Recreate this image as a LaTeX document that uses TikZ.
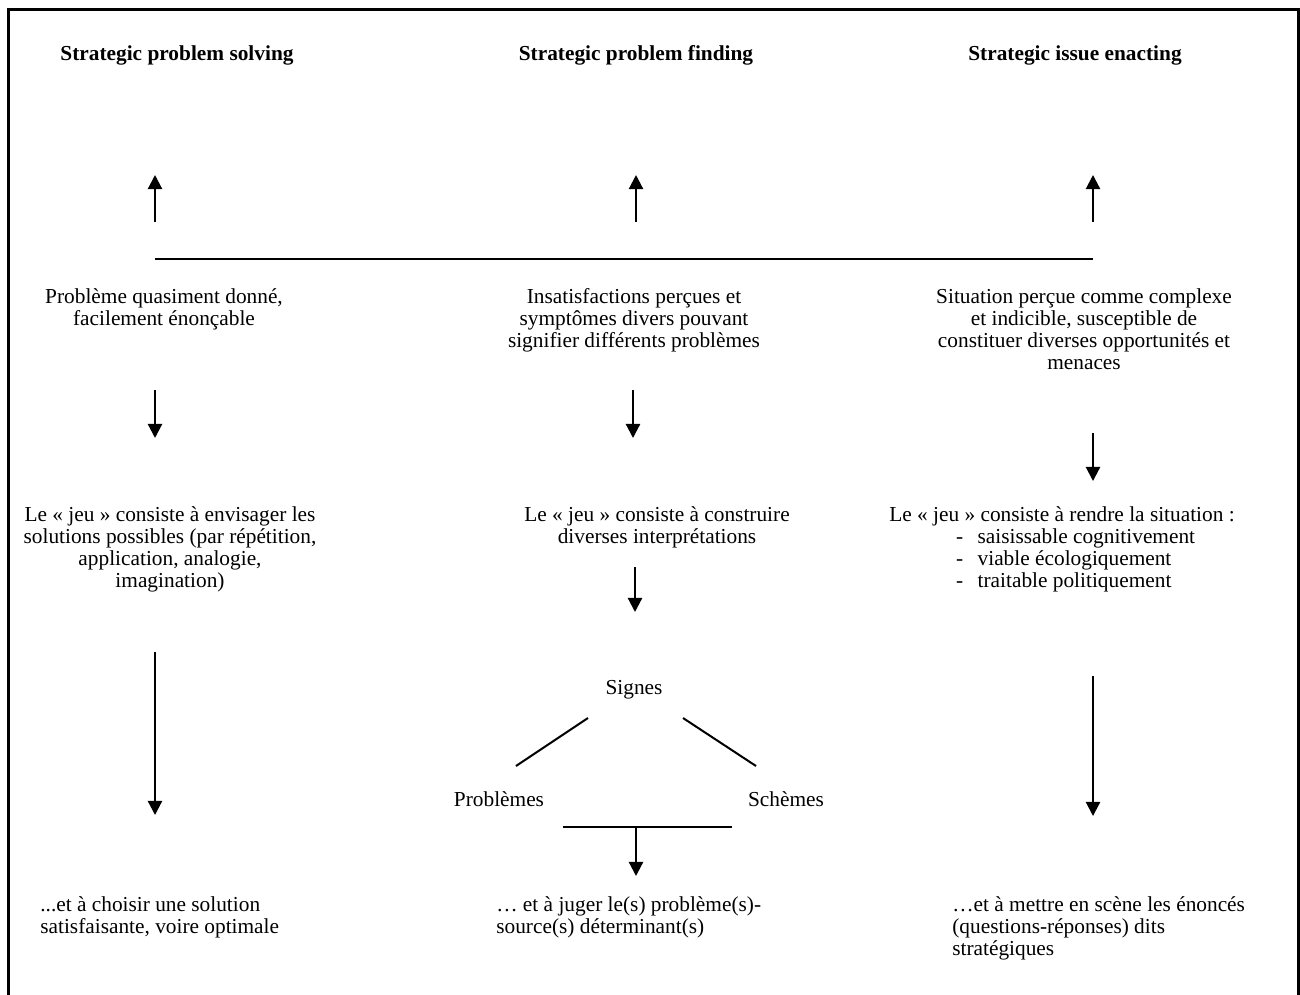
\documentclass[tikz,border=0pt]{standalone}
\usepackage{fontspec}
\setmainfont{Liberation Serif}
\usetikzlibrary{arrows.meta,positioning}

\begin{document}
\begin{tikzpicture}[x=0.6pt,y=-0.6pt,
  txt/.style={font=\fontsize{12.8}{13.2}\selectfont, inner sep=0pt, align=center, anchor=north},
  lft/.style={txt, align=left, anchor=north west},
  ttl/.style={font=\fontsize{12.8}{13.2}\selectfont\bfseries, inner sep=0pt, anchor=north},
  arr/.style={-{Triangle[length=8.5pt,width=8.5pt]}, line width=1.3pt},
  ln/.style={line width=1.2pt}]
\useasboundingbox (0,0) rectangle (1300,994);
% frame, open at the bottom
\draw[line width=1.8pt] (8,998) -- (8,9) -- (1298,9) -- (1298,998);
% titles
\node[ttl] (tsolv) at (177,45) {Strategic problem solving};
\node[ttl] (tfind) at (636,45) {Strategic problem finding};
\node[ttl] (tenac) at (1075,45) {Strategic issue enacting};
% arrows up to the titles
\foreach \x/\n in {155/a,636/b,1093/c} {
  \coordinate (up\n0) at (\x,222);
  \coordinate (up\n1) at (\x,175);
  \draw[arr] (up\n0) -- (up\n1);
}
% common bar
\coordinate (barL) at (155,259);
\coordinate (barR) at (1093,259);
\draw[ln] (barL) -- (barR);
% first row
\node[txt] (psolv) at (164,288) {Problème quasiment donné,\\facilement énonçable};
\node[txt] (pfind) at (634,288) {Insatisfactions perçues et\\symptômes divers pouvant\\signifier différents problèmes};
\node[txt] (penac) at (1084,288) {Situation perçue comme complexe\\et indicible, susceptible de\\constituer diverses opportunités et\\menaces};
\foreach \x/\ya/\yb/\n in {155/390/438/a,633/390/438/b,1093/433/481/c} {
  \coordinate (dn\n0) at (\x,\ya);
  \coordinate (dn\n1) at (\x,\yb);
  \draw[arr] (dn\n0) -- (dn\n1);
}
% second row
\node[txt] (jsolv) at (170,506) {Le «~jeu~» consiste à envisager les\\solutions possibles (par répétition,\\application, analogie,\\imagination)};
\node[txt] (jfind) at (657,506) {Le «~jeu~» consiste à construire\\diverses interprétations};
\node[lft] (jenac) at (889,506) {Le «~jeu~» consiste à rendre la situation :\\
  \hspace*{40pt}\makebox[13pt][l]{-}saisissable cognitivement\\
  \hspace*{40pt}\makebox[13pt][l]{-}viable écologiquement\\
  \hspace*{40pt}\makebox[13pt][l]{-}traitable politiquement};
\coordinate (mid0) at (635,567);
\coordinate (mid1) at (635,612);
\draw[arr] (mid0) -- (mid1);
\coordinate (lsolv0) at (155,652);
\coordinate (lsolv1) at (155,815);
\draw[arr] (lsolv0) -- (lsolv1);
\coordinate (lenac0) at (1093,676);
\coordinate (lenac1) at (1093,816);
\draw[arr] (lenac0) -- (lenac1);
% signs
\node[txt, anchor=center] (sig) at (634,690) {Signes};
\node[txt, anchor=center] (prob) at (499,799) {Problèmes};
\node[txt, anchor=center] (sche) at (786,799) {Schèmes};
\coordinate (sigL0) at (588,718);
\coordinate (sigL1) at (516,766);
\coordinate (sigR0) at (683,718);
\coordinate (sigR1) at (756,766);
\draw[ln] (sigL0) -- (sigL1);
\draw[ln] (sigR0) -- (sigR1);
\coordinate (joinL) at (563,827);
\coordinate (joinR) at (732,827);
\coordinate (joinM) at (636,827);
\coordinate (joinD) at (636,876);
\draw[ln] (joinL) -- (joinR);
\draw[arr] (joinM) -- (joinD);
% last row
\node[lft] (fsolv) at (40,896) {...et à choisir une solution\\satisfaisante, voire optimale};
\node[lft] (ffind) at (496,896) {… et à juger le(s) problème(s)-\\source(s) déterminant(s)};
\node[lft] (fenac) at (952,896) {…et à mettre en scène les énoncés\\(questions-réponses) dits\\stratégiques};
\end{tikzpicture}
\end{document}
